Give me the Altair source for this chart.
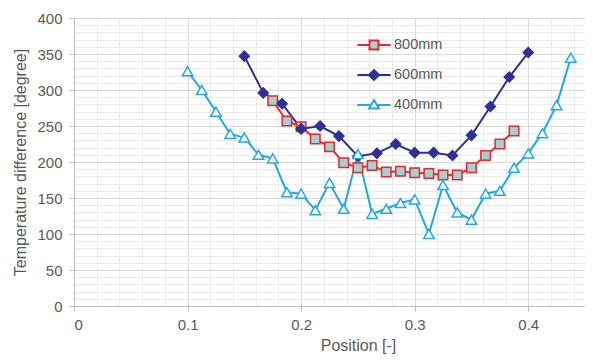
import altair as alt
import pandas as pd

series_names = ["800mm", "600mm", "400mm"]

pos_800 = [0.175, 0.1875, 0.2, 0.2125, 0.225, 0.2375, 0.25, 0.2625, 0.275, 0.2875,
           0.3, 0.3125, 0.325, 0.3375, 0.35, 0.3625, 0.375, 0.3875]
val_800 = [285, 257, 249, 232, 221, 199, 192, 195, 186, 187,
           185, 184, 182, 182, 192, 209, 225, 243]

pos_600 = [0.15, 0.1667, 0.1833, 0.2, 0.2167, 0.2333, 0.25, 0.2667, 0.2833, 0.3,
           0.3167, 0.3333, 0.35, 0.3667, 0.3833, 0.4]
val_600 = [347, 296, 281, 246, 250, 236, 208, 212, 225, 213,
           213, 209, 237, 277, 318, 352]

pos_400 = [0.1, 0.1125, 0.125, 0.1375, 0.15, 0.1625, 0.175, 0.1875, 0.2, 0.2125,
           0.225, 0.2375, 0.25, 0.2625, 0.275, 0.2875, 0.3, 0.3125, 0.325, 0.3375,
           0.35, 0.3625, 0.375, 0.3875, 0.4, 0.4125, 0.425, 0.4375]
val_400 = [326, 300, 270, 239, 234, 210, 205, 158, 156, 133,
           171, 135, 211, 128, 135, 143, 148, 100, 168, 130,
           120, 156, 160, 192, 212, 240, 279, 345]

x_ticks = [0, 0.1, 0.2, 0.3, 0.4]
y_ticks = [0, 50, 100, 150, 200, 250, 300, 350, 400]
x_minor = [0.02, 0.04, 0.06, 0.08, 0.12, 0.14, 0.16, 0.18, 0.22, 0.24, 0.26, 0.28,
           0.32, 0.34, 0.36, 0.38, 0.42, 0.44]
y_minor = [10, 20, 30, 40, 60, 70, 80, 90, 110, 120, 130, 140, 160, 170, 180, 190,
           210, 220, 230, 240, 260, 270, 280, 290, 310, 320, 330, 340, 360, 370, 380, 390]

line_colors = ["#e8282b", "#2e3192", "#22a9e3"]
marker_fills = ["#a6cfd3", "#2e3192", "#ffffff"]
marker_shapes = ["square", "diamond", "triangle-up"]
marker_sizes = [90, 100, 110]
legend_shapes = [
    "M-1.85,0H-0.5M0.5,0H1.85M-0.5,-0.5H0.5V0.5H-0.5Z",
    "M-1.85,0H-0.55M0.55,0H1.85M0,-0.55L0.55,0L0,0.55L-0.55,0Z",
    "M-1.85,0H-0.32M0.32,0H1.85M0,-0.55L0.55,0.4H-0.55Z",
]

rows = []
for name, xs, ys in [("800mm", pos_800, val_800), ("600mm", pos_600, val_600), ("400mm", pos_400, val_400)]:
    for xv, yv in zip(xs, ys):
        rows.append({"series": name, "pos": xv, "temp": yv})
df = pd.DataFrame(rows)

FONT = "Liberation Sans"
GRAY = "#595959"

xscale = alt.Scale(domain=[0, 0.45], nice=False, zero=False)
yscale = alt.Scale(domain=[0, 400], nice=False)

minor = alt.Chart(df).mark_point(opacity=0).encode(
    x=alt.X("pos:Q", scale=xscale, axis=alt.Axis(orient="top", values=x_minor, grid=True,
                                                  gridColor="#eaeaea", labels=False, ticks=False,
                                                  domain=False, title=None)),
    y=alt.Y("temp:Q", scale=yscale, axis=alt.Axis(orient="right", values=y_minor, grid=True,
                                                   gridColor="#eaeaea", labels=False, ticks=False,
                                                   domain=False, title=None)),
)

major = alt.Chart(df).mark_point(opacity=0).encode(
    x=alt.X("pos:Q", scale=xscale,
            axis=alt.Axis(values=x_ticks, format="~g", title="Position [-]", grid=True,
                          gridColor="#d9d9d9", domainColor="#bfbfbf", tickColor="#bfbfbf",
                          tickSize=5, labelPadding=6, labelFontSize=15, labelColor=GRAY,
                          labelFont=FONT, titleFont=FONT, titleFontSize=16, titleFontWeight="normal",
                          titleColor=GRAY, titlePadding=5, titleX=284)),
    y=alt.Y("temp:Q", scale=yscale,
            axis=alt.Axis(values=y_ticks, title="Temperature difference [degree]", grid=True,
                          gridColor="#d9d9d9", domainColor="#bfbfbf", tickColor="#bfbfbf",
                          tickSize=5, labelPadding=7, labelFontSize=15, labelColor=GRAY,
                          labelFont=FONT, titleFont=FONT, titleFontSize=16, titleFontWeight="normal",
                          titleColor=GRAY, titlePadding=8)),
)

series_layers = []
for name, shp, fc, sc, sz in zip(series_names, marker_shapes, marker_fills, line_colors, marker_sizes):
    base = alt.Chart(df).transform_filter(alt.datum.series == name)
    series_layers.append(
        base.mark_line(color=sc, strokeWidth=2)
        .encode(x=alt.X("pos:Q", scale=xscale, axis=None), y=alt.Y("temp:Q", scale=yscale, axis=None))
    )
for name, shp, fc, sc, sz in zip(series_names, marker_shapes, marker_fills, line_colors, marker_sizes):
    base = alt.Chart(df).transform_filter(alt.datum.series == name)
    series_layers.append(
        base.mark_point(shape=shp, filled=True, fill=fc, stroke=sc, size=sz, strokeWidth=1.5, opacity=1)
        .encode(x=alt.X("pos:Q", scale=xscale, axis=None), y=alt.Y("temp:Q", scale=yscale, axis=None))
    )

leg = alt.Legend(title=None, orient="none", legendX=290, legendY=17,
                 symbolSize=324, symbolStrokeWidth=2, symbolOpacity=1, labelOffset=10,
                 rowPadding=11, labelFontSize=14.5, labelColor=GRAY, labelFont=FONT, padding=0)

legend_layer = alt.Chart(df).mark_point(filled=True, opacity=0).encode(
    x=alt.X("pos:Q", scale=xscale, axis=None),
    y=alt.Y("temp:Q", scale=yscale, axis=None),
    shape=alt.Shape("series:N", scale=alt.Scale(domain=series_names, range=legend_shapes), legend=leg),
    fill=alt.Fill("series:N", scale=alt.Scale(domain=series_names, range=marker_fills), legend=leg),
    stroke=alt.Stroke("series:N", scale=alt.Scale(domain=series_names, range=line_colors), legend=leg),
)

chart = alt.layer(minor, major, *series_layers, legend_layer).resolve_axis(
    x="independent", y="independent"
).properties(
    width=511, height=288,
    autosize=alt.AutoSizeParams(type="none"),
    padding={"left": 66, "top": 10, "right": 0, "bottom": 52},
).configure_view(stroke=None).configure(background="white")

chart.save("out.html", embed_options={"renderer": "svg", "actions": False})
